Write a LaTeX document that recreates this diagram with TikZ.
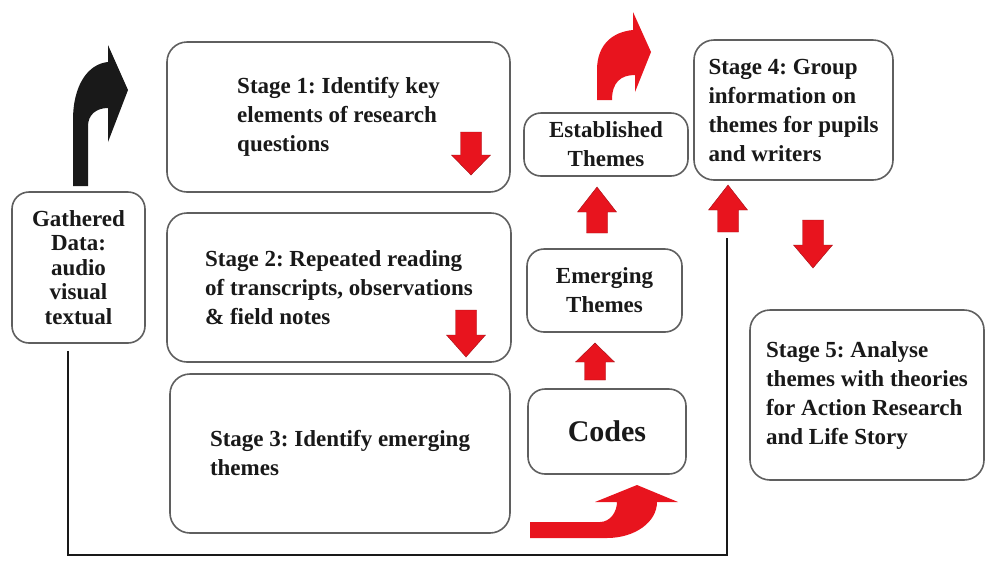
\documentclass[tikz,border=0pt]{standalone}
\usepackage{fontspec}
\setmainfont{Liberation Serif}
\frenchspacing
\definecolor{boxgray}{RGB}{95,95,95}
\definecolor{arrowred}{RGB}{232,20,30}
\definecolor{inkblack}{RGB}{25,25,25}
% block arrows: centre x, top y, bottom y, head start y
\newcommand{\blockDown}[4]{%
  \fill[arrowred, draw=arrowred!70!black, line width=0.4pt]
    (#1-10.5,#2) -- (#1+10.5,#2) -- (#1+10.5,#4) -- (#1+19.5,#4) -- (#1,#3)
    -- (#1-19.5,#4) -- (#1-10.5,#4) -- cycle;}
\newcommand{\blockUp}[4]{%
  \fill[arrowred, draw=arrowred!70!black, line width=0.4pt]
    (#1-10.5,#3) -- (#1+10.5,#3) -- (#1+10.5,#4) -- (#1+19.5,#4) -- (#1,#2)
    -- (#1-19.5,#4) -- (#1-10.5,#4) -- cycle;}
\begin{document}
\begin{tikzpicture}[x=1pt,y=-1pt,
  box/.style={draw=boxgray, line width=1.6pt, rounded corners=20pt, fill=white,
    text=inkblack, font=\fontsize{23}{29}\selectfont\bfseries, align=left, inner sep=0pt},
  smallbox/.style={box, rounded corners=17pt, align=center},
  link/.style={draw=inkblack, line width=2.6pt}]
\useasboundingbox (0,0) rectangle (986,566);

% stage boxes
\node[box, minimum width=343pt, minimum height=150pt] (s1) at (338.5,117)
  {Stage 1: Identify key\\elements of research\\questions};
\node[box, minimum width=344pt, minimum height=149pt] (s2) at (339,287.5)
  {Stage 2: Repeated reading\\of transcripts, observations\\\& field notes};
\node[box, minimum width=340pt, minimum height=159pt] (s3) at (340,453.5)
  {Stage 3: Identify emerging\\themes};
\node[box, minimum width=199pt, minimum height=140pt] (s4) at (793.5,110)
  {Stage 4: Group\\information on\\themes for pupils\\and writers};
\node[box, minimum width=234pt, minimum height=170pt] (s5) at (867,395)
  {Stage 5: Analyse\\themes with theories\\for Action Research\\and Life Story};

% data and theme boxes
\node[smallbox, minimum width=133pt, minimum height=151pt,
  font=\fontsize{23}{24.5}\selectfont\bfseries] (gd) at (78.5,267.5)
  {Gathered\\Data:\\audio\\visual\\textual};
\node[smallbox, minimum width=164pt, minimum height=63pt] (est) at (606,144.5)
  {Established\\Themes};
\node[smallbox, minimum width=155pt, minimum height=83pt] (emg) at (604.5,290.5)
  {Emerging\\Themes};
\node[smallbox, minimum width=158pt, minimum height=85pt,
  font=\fontsize{30}{34}\selectfont\bfseries] (codes) at (607,431.5) {Codes};

% data line running under the stages up to stage 4
\coordinate (corner) at (68,555);
\draw[link] ([xshift=-10.5pt,yshift=-7pt]gd.south) -- (corner) -| (727,238);

% curved black arrow from the gathered data to stage 1
\fill[inkblack] (73,186) -- (73,120) .. controls (73,85) and (88,64) .. (108,62)
  -- (108,45) -- (128,90) -- (108,142) -- (108,108)
  .. controls (96,108) and (88,115) .. (88,126) -- (88,186) -- cycle;

% curved red arrow leaving the established themes
\fill[arrowred] (597,100) -- (597,70) .. controls (597,45) and (612,32) .. (633,30)
  -- (633,12) -- (651,52) -- (635,92) -- (635,75)
  .. controls (621,75) and (612,82) .. (612,100) -- cycle;

% curved red arrow from stage 3 up into the codes
\fill[arrowred] (530,522) -- (600,522) .. controls (610,522) and (617,512) .. (617,502)
  -- (595,502) -- (637,485) -- (678,502) -- (657,502)
  .. controls (657,522) and (635,538) .. (607,538) -- (530,538) -- cycle;

% straight block arrows
\blockDown{471}{132}{175}{155}
\blockDown{466}{310}{357}{335}
\blockUp{597}{187}{233}{212}
\blockUp{595}{343}{380}{362}
\blockUp{728}{185}{232}{210}
\blockDown{813}{220}{268}{245}
\end{tikzpicture}
\end{document}
